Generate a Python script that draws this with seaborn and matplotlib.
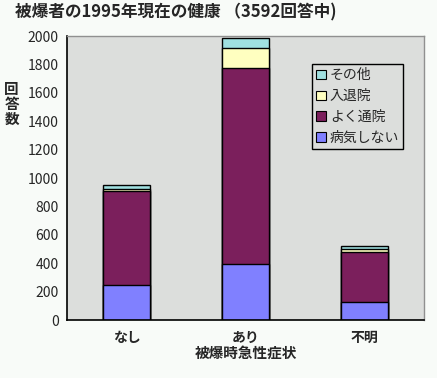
import numpy as np
import pandas as pd
import seaborn as sns
import matplotlib.pyplot as plt
from matplotlib.patches import Patch

# 被爆時急性症状 categories
categories = ['なし', 'あり', '不明']
# stacked series, bottom to top
healthy = [245, 392, 125]      # 病気しない
outpatient = [660, 1380, 352]  # よく通院
hospital = [20, 141, 21]       # 入退院
other = [25, 71, 21]           # その他

series_names = ['病気しない', 'よく通院', '入退院', 'その他']
series_colors = ['#8080ff', '#7b1f5c', '#ffffc0', '#a0e0e0']

sns.set_style('white')
plt.rcParams['font.family'] = ['Noto Sans CJK JP', 'DejaVu Sans']

fig = plt.figure(figsize=(4.37, 3.78), dpi=100, facecolor='#f8fbf8')
ax = fig.add_axes([67 / 437, 58 / 378, 357 / 437, 284 / 378])
ax.set_facecolor('#dcdedc')

stack = np.cumsum(np.array([healthy, outpatient, hospital, other]), axis=0)

# draw tallest cumulative layer first so lower layers sit on top
for i in range(len(series_names) - 1, -1, -1):
    df = pd.DataFrame({'cat': categories, 'val': stack[i]})
    sns.barplot(data=df, x='cat', y='val', color=series_colors[i], width=0.4,
                edgecolor='black', linewidth=1, saturation=1, ax=ax)

ax.set_ylim(0, 2000)
ax.set_xlim(-0.5, 2.5)
ax.set_yticks(range(0, 2001, 200))
ax.tick_params(axis='y', length=0, labelsize=10, pad=6)
ax.tick_params(axis='x', which='major', length=0, labelsize=10, pad=8)
ax.set_xticks([0.5, 1.5], minor=True)
ax.tick_params(axis='x', which='minor', direction='in', length=4, width=1, color='black')
for lbl in ax.get_xticklabels():
    lbl.set_fontweight('bold')

for s in ['left', 'bottom']:
    ax.spines[s].set_color('black')
    ax.spines[s].set_linewidth(1.2)
for s in ['top', 'right']:
    ax.spines[s].set_color('#909090')
    ax.spines[s].set_linewidth(1)

ax.set_xlabel('被爆時急性症状', fontsize=10.5, fontweight='bold', labelpad=0)
ax.set_ylabel('回\n答\n数', rotation=0, fontsize=10.5, fontweight='bold',
              linespacing=0.9, va='center', ha='center')
ax.yaxis.set_label_coords(-0.155, 0.76)

handles = [Patch(facecolor=series_colors[i], edgecolor='black', linewidth=0.8,
                 label=series_names[i]) for i in range(len(series_names) - 1, -1, -1)]
leg = ax.legend(handles=handles, loc='upper left', bbox_to_anchor=(0.686, 0.901),
                borderaxespad=0, fontsize=10, frameon=True, fancybox=False,
                facecolor='#dcdedc', edgecolor='black', framealpha=1,
                handlelength=0.7, handleheight=0.7, handletextpad=0.3,
                labelspacing=0.5, borderpad=0.3)
leg.get_frame().set_linewidth(1)

fig.text(15 / 437, 1 - 12 / 378, '被爆者の1995年現在の健康 （3592回答中)',
         fontsize=12, fontweight='bold', ha='left', va='center')

fig.savefig('out.png', dpi=100, facecolor=fig.get_facecolor())
